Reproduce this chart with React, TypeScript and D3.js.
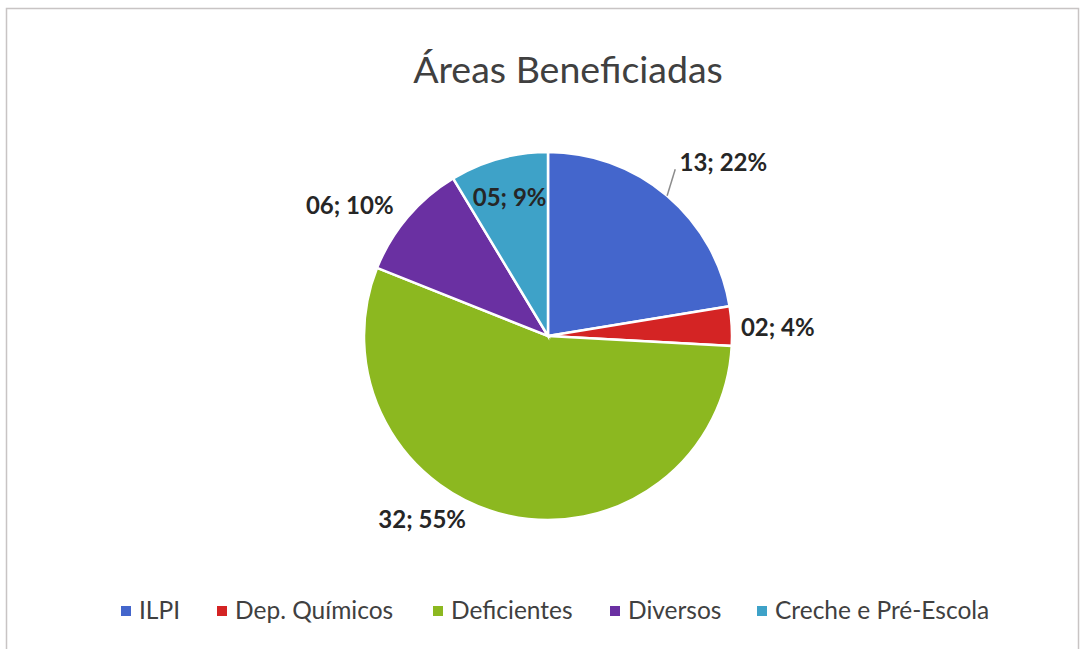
import React from "react";
import * as d3 from "d3";

const categories = ["ILPI", "Dep. Químicos", "Deficientes", "Diversos", "Creche e Pré-Escola"];
const values = [13, 2, 32, 6, 5];
const labels = ["13; 22%", "02; 4%", "32; 55%", "06; 10%", "05; 9%"];
const colors = ["#4466cc", "#d42424", "#8cb820", "#6a30a2", "#3ea2c8"];
// label placement: [angle offset (deg) from slice middle, radius factor]
const labelPlacement = [
  [5, 1.34],
  [1, 1.25],
  [22, 1.21],
  [-7, 1.29],
  [0, 0.78],
];

const W = 1084;
const H = 649;
const cx = 548;
const cy = 336;
const R = 184;

export default function App() {
  const pie = d3.pie<number>().sort(null).value((d) => d);
  const arcs = pie(values);
  const arc = d3.arc<d3.PieArcDatum<number>>().innerRadius(0).outerRadius(R);

  const legendX = [121, 217, 433, 610, 757];

  const a0 = arcs[0];
  const mid0 = (a0.startAngle + a0.endAngle) / 2;
  const angB = mid0 - (3 * Math.PI) / 180;
  const lp1 = [Math.sin(mid0) * R * 1.0, -Math.cos(mid0) * R * 1.0];
  const lp2 = [Math.sin(angB) * R * 1.14, -Math.cos(angB) * R * 1.14];

  return (
    <svg width={W} height={H} style={{ position: "absolute", left: 0, top: 0 }}>
      <rect x={0} y={0} width={W} height={H} fill="#ffffff" />
      <rect x={6.5} y={8.5} width={1072} height={660} fill="none" stroke="#c8c4c4" strokeWidth={1.5} />
      <text x={cx + 20} y={83} textAnchor="middle" fontFamily="Lato" fontSize={37.5} fill="#404040">
        Áreas Beneficiadas
      </text>
      <g transform={`translate(${cx},${cy})`}>
        {arcs.map((a, i) => (
          <path key={i} d={arc(a) || ""} fill={colors[i]} stroke="#ffffff" strokeWidth={2.5} />
        ))}
        <line x1={lp1[0]} y1={lp1[1]} x2={lp2[0]} y2={lp2[1]} stroke="#8c8c8c" strokeWidth={1.5} />
        {arcs.map((a, i) => {
          const mid = (a.startAngle + a.endAngle) / 2 + (labelPlacement[i][0] * Math.PI) / 180;
          const r = R * labelPlacement[i][1];
          const x = Math.sin(mid) * r;
          const y = -Math.cos(mid) * r;
          return (
            <text key={i} x={x} y={y} dy="0.35em" textAnchor="middle" fontFamily="Lato" fontWeight="bold" fontSize={24} fill="#262626">
              {labels[i]}
            </text>
          );
        })}
      </g>
      {categories.map((c, i) => (
        <g key={c}>
          <rect x={legendX[i]} y={606} width={10} height={10} fill={colors[i]} />
          <text x={legendX[i] + 18} y={619} fontFamily="Lato" fontSize={24.5} fill="#404040">
            {c}
          </text>
        </g>
      ))}
    </svg>
  );
}
